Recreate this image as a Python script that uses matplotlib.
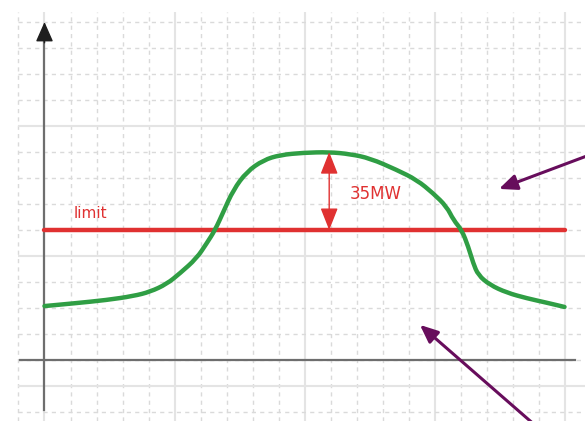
import numpy as np
import matplotlib.pyplot as plt
from matplotlib.path import Path
from matplotlib.patches import PathPatch

# one grid cell on the sketch is 35/3 MW tall (limit -> peak spans 3 cells)
GAP_MW = 35
MW_PER_CELL = GAP_MW / 3
LIMIT_MW = 58.3

# load profile over the day (x in grid cells, y in MW)
hours = [0.0, 1.11, 2.39, 3.42, 4.06, 4.70, 5.21, 5.85, 6.24, 6.56, 6.88,
         7.26, 7.78, 8.42, 9.06, 9.95, 10.95, 11.75, 12.52, 13.55, 14.32,
         14.95, 15.47, 15.73, 16.05, 16.30, 16.49, 16.68, 17.13, 17.78,
         18.55, 19.32, 20.0]
load_mw = [24.2, 25.4, 26.9, 28.7, 30.6, 34.1, 38.9, 45.6, 52.4, 58.3, 66.5,
           76.3, 84.5, 89.7, 92.0, 93.0, 93.3, 92.4, 90.5, 85.3, 80.8,
           74.8, 68.8, 62.8, 58.3, 50.8, 43.4, 38.1, 33.7, 30.2,
           27.7, 25.7, 23.8]
peak_x = 10.95

# axis extents in cells
X_MIN, X_MAX = -44.5 / 26, (585 - 44.5) / 26
Y_MIN, Y_MAX = -61 / 26, 360 / 26

RED = "#e03131"
GREEN = "#2f9e44"
PURPLE = "#670d5c"
INK = "#1e1e1e"
AXIS_GRAY = "#6e6e6e"

fig = plt.figure(figsize=(5.85, 4.21), dpi=100)
ax = fig.add_axes([0, 0, 1, 1])
ax.set_xlim(X_MIN, X_MAX)
ax.set_ylim(Y_MIN * MW_PER_CELL, Y_MAX * MW_PER_CELL)
ax.axis("off")

# background grid: dashed every cell, solid every 5 cells
grid_top = 13.4 * MW_PER_CELL
grid_left = -1.03
for k in range(-1, 21):
    solid = k % 5 == 0
    ax.vlines(k, Y_MIN * MW_PER_CELL, grid_top,
              colors="#e4e4e4" if solid else "#dadada",
              linewidth=1.5 if solid else 1.0,
              linestyles="solid" if solid else (0, (3, 3)), zorder=0)
for k in range(-2, 14):
    solid = k % 5 == 4
    ax.hlines(k * MW_PER_CELL, grid_left, X_MAX,
              colors="#e4e4e4" if solid else "#dadada",
              linewidth=1.5 if solid else 1.0,
              linestyles="solid" if solid else (0, (3, 3)), zorder=0)


def arrow(tail, tip, color, lw, hl_px, hw_px, style="-|>", z=3):
    ax.annotate("", xy=tip, xytext=tail,
                arrowprops=dict(
                    arrowstyle=f"{style},head_length={hl_px / 1.389:.2f},"
                               f"head_width={hw_px / 2 / 1.389:.2f}",
                    color=color, lw=lw, mutation_scale=1,
                    shrinkA=0, shrinkB=0),
                zorder=z)


# axes: gray shafts with dark heads
y_top = 13.0 * MW_PER_CELL
ax.plot([0, 0], [-1.92 * MW_PER_CELL, y_top - 0.5 * MW_PER_CELL],
        color=AXIS_GRAY, linewidth=1.6, zorder=1)
arrow((0, y_top - 0.8 * MW_PER_CELL), (0, y_top), INK, 1.0, 17, 15)
ax.plot([-0.94, 20.4], [0, 0], color=AXIS_GRAY, linewidth=1.6, zorder=1)
arrow((20.0, 0), (20.9, 0), INK, 1.0, 16, 16)

# limit line
ax.plot([0, 20], [LIMIT_MW, LIMIT_MW], color=RED, linewidth=3.2,
        solid_capstyle="round", zorder=2)
ax.text(1.75, LIMIT_MW + 0.62 * MW_PER_CELL, "limit", color=RED,
        fontsize=11, ha="center", va="center", zorder=4)

# load curve, drawn as a smooth quadratic path through the readings
pts = np.column_stack([hours, load_mw])
verts = [pts[0], (pts[0] + pts[1]) / 2]
codes = [Path.MOVETO, Path.LINETO]
for i in range(1, len(pts) - 1):
    verts += [pts[i], (pts[i] + pts[i + 1]) / 2]
    codes += [Path.CURVE3, Path.CURVE3]
verts.append(pts[-1])
codes.append(Path.LINETO)
ax.add_patch(PathPatch(Path(verts, codes), facecolor="none",
                       edgecolor=GREEN, linewidth=3.2, capstyle="round",
                       joinstyle="round", zorder=3))

# headroom arrow between the limit and the peak
arrow((peak_x, LIMIT_MW), (peak_x, LIMIT_MW + GAP_MW), RED, 1.0, 19, 15,
      style="<|-|>", z=4)
ax.text(12.75, 6.38 * MW_PER_CELL, f"{GAP_MW}MW", color=RED,
        fontsize=12, ha="center", va="center", zorder=4)

# pointer arrows
arrow((21.0, 7.9 * MW_PER_CELL), (17.48, 6.58 * MW_PER_CELL),
      PURPLE, 2.2, 15, 13)
arrow((18.8, -2.45 * MW_PER_CELL), (14.44, 1.35 * MW_PER_CELL),
      PURPLE, 2.2, 15, 13)

fig.savefig("out.png", dpi=100)
